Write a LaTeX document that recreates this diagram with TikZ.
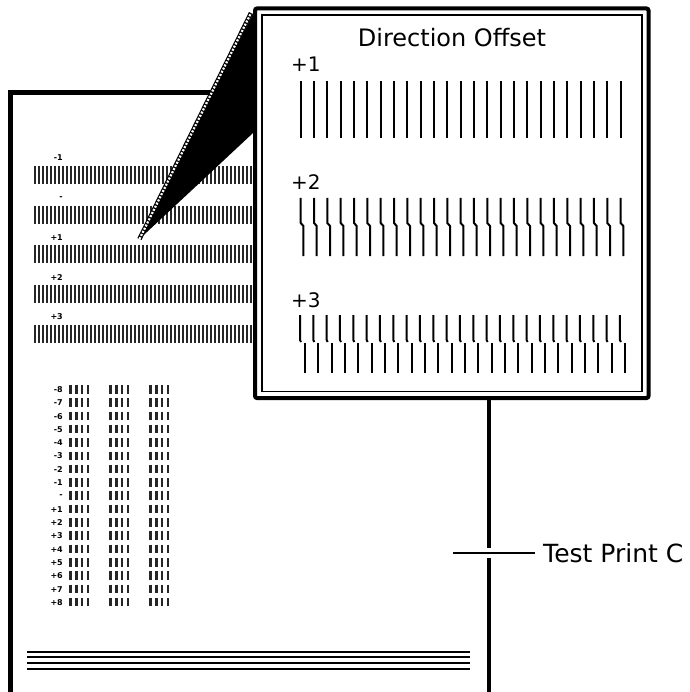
\documentclass[tikz,border=0pt]{standalone}
\usepackage{fontspec}
\setmainfont{DejaVu Sans}
\begin{document}
\begin{tikzpicture}[x=1pt, y=-1pt,
    paperbar/.style={line width=2pt, black!85},
    boxbar/.style={line width=2pt},
    tinylabel/.style={anchor=east, inner sep=0pt, font=\fontsize{8}{8}\selectfont\bfseries},
    offlabel/.style={anchor=base west, inner sep=0pt, font=\fontsize{20}{20}\selectfont}]
  \useasboundingbox (0,0) rectangle (689,692);

  % Sheet of paper: left and top edge, right edge only below the box
  \draw[line width=4.5pt] (10.5,692) -- (10.5,92.5) -- (253,92.5);
  \draw[line width=3.5pt] (489,398) -- (489,692);

  % five long test rows at the top of the sheet
  \foreach \lab [count=\i from 0] in {-1,-,+1,+2,+3} {
    \pgfmathsetmacro{\ytop}{166+39.7*\i}
    \node[tinylabel] (row\i) at (63,\ytop-8) {\lab};
    \foreach \x in {35,39,...,251}
      \draw[paperbar] (\x,\ytop) -- (\x,\ytop+18);
  }

  % short test rows: one label and three groups of four bars
  \foreach \lab [count=\i from 0] in {-8,-7,-6,-5,-4,-3,-2,-1,-,+1,+2,+3,+4,+5,+6,+7,+8} {
    \pgfmathsetmacro{\ytop}{385+13.31*\i}
    \node[tinylabel] (col\i) at (63,\ytop+4.5) {\lab};
    \foreach \gx in {70.5,110.5,150.5}
      \foreach \k in {0,...,3}
        \draw[paperbar, line width=2.5pt] (\gx+5.8*\k,\ytop) -- (\gx+5.8*\k,\ytop+8.5);
  }

  % four lines near the foot of the sheet
  \foreach \y in {651.7,657.3,663.3,669}
    \draw[line width=2pt] (27,\y) -- (470,\y);

  % magnified box with double frame
  \fill[white] (255,8.5) rectangle (648.5,398);
  \draw[line width=4pt, rounded corners=2pt] (255,8.5) rectangle (648.5,398);
  \draw[line width=1.5pt] (262,15) rectangle (642,391.5);

  % pointer from the +1 row up to the box
  \coordinate (tip) at (139.5,239);
  \fill (tip) -- (253,14) -- (253,133) -- cycle;
  \draw[line width=4.5pt] (tip) -- (251,13);
  \draw[white, line width=2.2pt, dash pattern=on 2pt off 1.5pt] (tip) -- (251,13);

  % box contents
  \node[anchor=base, inner sep=0pt, font=\fontsize{24}{24}\selectfont] (title) at (452,47) {Direction Offset};
  \node[offlabel] (off1) at (291,72) {+1};
  \node[offlabel] (off2) at (291,190) {+2};
  \node[offlabel] (off3) at (291,307) {+3};
  \foreach \k in {0,...,24} {
    \draw[boxbar] (300.7+13.33*\k,81) -- ++(0,57);
    % offset by one step
    \draw[boxbar] (300.7+13.33*\k,198) -- ++(0,25) -- ++(2.7,3) -- ++(0,30);
    % offset by two steps
    \draw[boxbar] (300+13.33*\k,315) -- ++(0,25) -- ++(1,2);
    \draw[boxbar] (305+13.33*\k,343) -- ++(0,30);
  }

  % callout for the sheet
  \node[anchor=west, inner xsep=8pt, inner ysep=0pt, font=\fontsize{25}{25}\selectfont] (tpc) at (535,553) {Test Print C};
  \coordinate (tick) at (453,553);
  \draw[white, line width=10pt] (484,553) -- (494,553);
  \draw[line width=1.5pt] (tick) -- (tpc.west);
\end{tikzpicture}
\end{document}
